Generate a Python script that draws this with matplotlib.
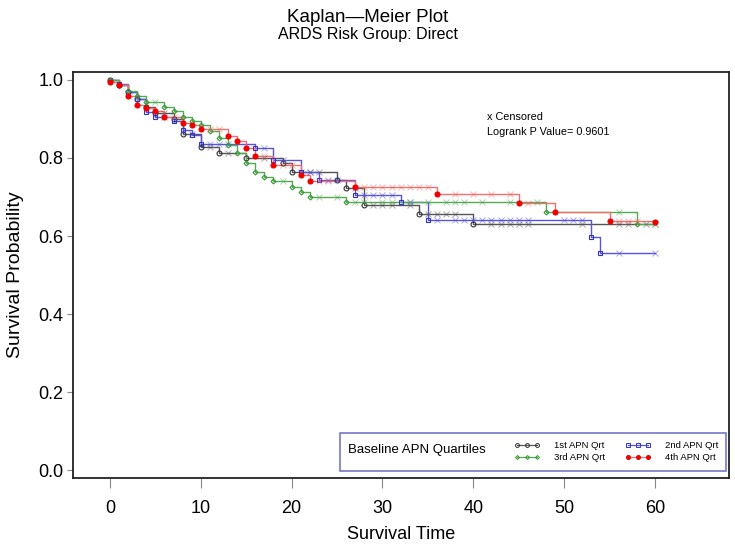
import numpy as np
import matplotlib
matplotlib.use('Agg')
import matplotlib.pyplot as plt
from matplotlib.lines import Line2D
from matplotlib.patches import Rectangle

plt.rcParams['font.family'] = ['Liberation Sans', 'DejaVu Sans']

# step curves: event times and survival after each event
t1 = [0, 1, 2, 3, 4, 5, 7, 8, 10, 12, 15, 19, 20, 25, 26, 28, 34, 40]
s1 = [1.0, 0.987, 0.97, 0.95, 0.93, 0.915, 0.9, 0.862, 0.828, 0.814, 0.80, 0.788, 0.765, 0.744, 0.722, 0.679, 0.656, 0.630]
c1 = [6, 9, 11, 13, 17, 21, 22, 23, 27, 29, 30, 31, 33, 35, 36, 37, 38, 42, 43, 44, 45, 46, 52, 56, 57, 59, 60]

t2 = [0, 1, 2, 3, 4, 5, 7, 8, 9, 10, 16, 18, 21, 23, 27, 32, 35, 53, 54]
s2 = [1.0, 0.99, 0.97, 0.95, 0.919, 0.906, 0.895, 0.872, 0.859, 0.835, 0.825, 0.795, 0.765, 0.744, 0.705, 0.688, 0.641, 0.598, 0.557]
c2 = [6, 11, 12, 13, 17, 19, 22, 24, 25, 28, 29, 30, 31, 33, 36, 38, 39, 40, 41, 42, 43, 44, 45, 46, 50, 51, 52, 56, 60]

t3 = [0, 1, 2, 3, 4, 6, 7, 8, 9, 10, 11, 12, 13, 14, 15, 16, 17, 18, 20, 21, 22, 26, 48, 58]
s3 = [1.0, 0.987, 0.972, 0.958, 0.944, 0.931, 0.92, 0.906, 0.896, 0.885, 0.870, 0.851, 0.833, 0.813, 0.787, 0.765, 0.752, 0.741, 0.726, 0.714, 0.70, 0.686, 0.662, 0.630]
c3 = [5, 19, 23, 25, 27, 28, 30, 31, 33, 35, 37, 38, 39, 41, 44, 47, 56, 60]

t4 = [0, 1, 2, 3, 4, 5, 6, 8, 9, 10, 13, 14, 15, 16, 18, 21, 22, 27, 36, 45, 49, 55, 60]
s4 = [0.995, 0.987, 0.959, 0.936, 0.928, 0.921, 0.906, 0.890, 0.885, 0.874, 0.856, 0.844, 0.826, 0.805, 0.782, 0.756, 0.741, 0.726, 0.708, 0.684, 0.662, 0.638, 0.636]
c4 = [7, 11, 12, 17, 19, 20, 23, 24, 28, 29, 30, 31, 32, 33, 34, 35, 38, 40, 42, 44, 46, 56, 57, 58]

groups = ['1st APN Qrt', '2nd APN Qrt', '3rd APN Qrt', '4th APN Qrt']
line_colors = ['#555555', '#5555dd', '#55aa55', '#f07070']
mark_colors = ['#333333', '#3333cc', '#339933', '#ee0000']
markers = ['o', 's', 'D', 'o']
mfill = ['none', 'none', 'none', 'full']
msize = [3.5, 3.5, 2.5, 3.6]
curves = [(t1, s1, c1), (t2, s2, c2), (t3, s3, c3), (t4, s4, c4)]

fig = plt.figure(figsize=(7.35, 5.45), dpi=100)
ax = fig.add_axes([0.0993, 0.1229, 0.8925, 0.745])

for (t, s, c), lc, mc, mk, mf, ms in zip(curves, line_colors, mark_colors, markers, mfill, msize):
    tt = [0] + t + [60]
    ss = [1.0] + s + [s[-1]]
    ax.step(tt, ss, where='post', color=lc, lw=1.0, zorder=2)
    ax.plot(t, s, linestyle='none', marker=mk, ms=ms, mec=mc,
            mfc=mc if mf == 'full' else 'none', mew=0.8, zorder=3)
    idx = np.searchsorted(tt, c, side='right') - 1
    cy = np.array(ss)[idx]
    ax.plot(c, cy, linestyle='none', marker='x', ms=5, mew=0.7,
            color=lc, alpha=0.5, zorder=3)

ax.set_xlim(-4.07, 68.15)
ax.set_ylim(-0.0205, 1.0205)
ax.set_xticks(range(0, 61, 10))
ax.set_yticks([0.0, 0.2, 0.4, 0.6, 0.8, 1.0])
ax.set_yticklabels(['0.0', '0.2', '0.4', '0.6', '0.8', '1.0'])
ax.tick_params(axis='x', direction='out', length=7, width=0.8, color='#888888',
               labelsize=13, pad=9)
ax.tick_params(axis='y', direction='out', length=4, width=0.8, color='#888888',
               labelsize=13, pad=3)
for sp in ax.spines.values():
    sp.set_linewidth(1.3)
    sp.set_color('#222222')

ax.set_xlabel('Survival Time', fontsize=13, labelpad=6)
ax.set_ylabel('Survival Probability', fontsize=14, labelpad=10)

fig.text(0.5, 0.968, 'Kaplan\u2014Meier Plot', ha='center', va='center', fontsize=13.5)
fig.text(0.5, 0.937, 'ARDS Risk Group: Direct', ha='center', va='center', fontsize=11.5)

ax.text(0.631, 0.889, 'x Censored', transform=ax.transAxes, fontsize=7.8,
        va='center')
ax.text(0.631, 0.852, 'Logrank P Value= 0.9601', transform=ax.transAxes, fontsize=7.8,
        va='center')

# legend box drawn in figure pixels
W, H = 735.0, 545.0
def fx(px):
    return px / W
def fy(py):
    return 1 - py / H

fig.add_artist(Rectangle((fx(340), fy(471)), fx(726) - fx(340), fy(433) - fy(471),
                         transform=fig.transFigure, fill=False,
                         edgecolor='#7777cc', lw=1.2))
fig.text(fx(348), fy(450), 'Baseline APN Quartiles', fontsize=9.5, va='center')
leg_pos = [(517, 445), (628, 445), (517, 457), (628, 457)]
for g, (px, py), lc, mc, mk, mf, ms in zip(groups, leg_pos, line_colors, mark_colors,
                                           markers, mfill, msize):
    xs = [fx(px), fx(px + 10), fx(px + 20)]
    ys = [fy(py)] * 3
    fig.add_artist(Line2D(xs, ys, transform=fig.transFigure, color=lc, lw=0.9,
                          marker=mk, ms=ms * 0.8, mec=mc,
                          mfc=mc if mf == 'full' else 'none', mew=0.7))
    fig.text(fx(px + 37), fy(py), g, fontsize=6.8, va='center')

fig.savefig('out.png', dpi=100)
